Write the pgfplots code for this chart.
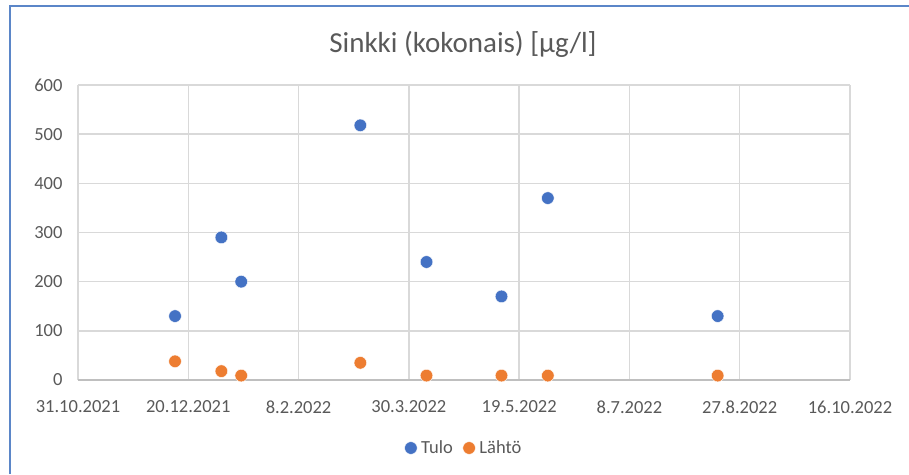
\documentclass[border=0pt]{standalone}
\usepackage{pgfplots}
\pgfplotsset{compat=1.18}
\usepackage{fontspec}
\setmainfont{Carlito}
\definecolor{tulo}{HTML}{4472C4}
\definecolor{lahto}{HTML}{ED7D31}
\definecolor{txt}{HTML}{595959}
\definecolor{grd}{HTML}{D9D9D9}
\definecolor{axl}{HTML}{BFBFBF}
\definecolor{brd}{HTML}{5B86C8}
\begin{document}
\begin{tikzpicture}[x=1pt,y=1pt]
\path[use as bounding box] (0,0) rectangle (909,474);
\draw[brd, line width=2.5pt] (10,0) -- (10,468) -- (909,468);
\node[txt, font=\fontsize{29}{34}\selectfont] at (463,430) {Sinkki (kokonais) [µg/l]};
\begin{axis}[at={(78pt,94pt)}, anchor=south west, scale only axis,
  width=772pt, height=295pt,
  xmin=0, xmax=350, ymin=0, ymax=600,
  xtick={0,50,...,350},
  xticklabels={31.10.2021,20.12.2021,8.2.2022,30.3.2022,19.5.2022,8.7.2022,27.8.2022,16.10.2022},
  ytick={0,100,...,600},
  /pgf/number format/assume math mode=true,
  grid=major, major grid style={grd, line width=1.4pt},
  axis x line*=bottom, axis y line*=left,
  x axis line style={axl, line width=1.4pt, -},
  y axis line style={draw=none},
  major tick length=0pt, tick style={draw=none},
  tick label style={txt, font=\fontsize{18.5}{21}\selectfont},
  xticklabel style={yshift=-17pt},
  yticklabel style={xshift=-12pt},
  clip=false,
  legend style={at={(0.50,-0.2305)}, anchor=center, draw=none, fill=none,
    font=\fontsize{18.5}{21}\selectfont, text=txt, legend columns=2,
    /tikz/every odd column/.append style={column sep=2pt},
    /tikz/every even column/.append style={column sep=8pt}},
  legend cell align=left,
]
\addplot[only marks, mark=*, mark size=6.3pt, mark options={fill=tulo, draw=white, line width=0.4pt}]
  coordinates {(44,130) (65,290) (74,200) (128,518) (158,240) (192,170) (213,370) (290,130)};
\addlegendentry{Tulo}
\addplot[only marks, mark=*, mark size=6.3pt, mark options={fill=lahto, draw=white, line width=0.4pt}]
  coordinates {(44,38) (65,18) (74,9) (128,35) (158,9) (192,9) (213,9) (290,9)};
\addlegendentry{Lähtö}
\end{axis}
\end{tikzpicture}
\end{document}
